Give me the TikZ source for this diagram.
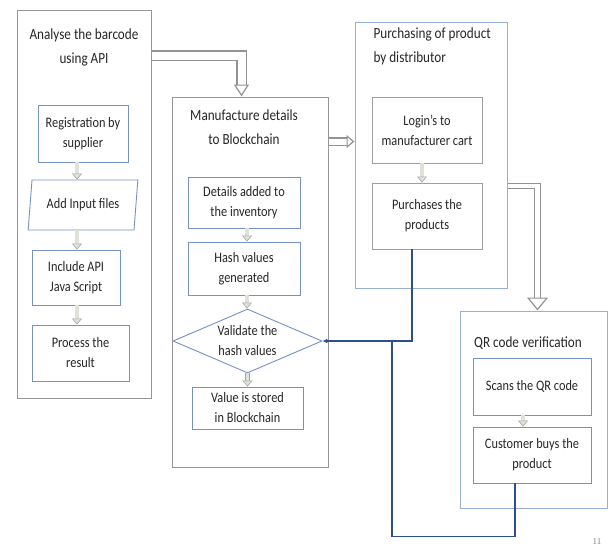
\documentclass[tikz,border=0pt]{standalone}
\usepackage{fontspec}
\setmainfont{Carlito}[FakeStretch=0.85]
\newfontfamily\pagefont{Liberation Serif}
\usepackage{tikz}
\usetikzlibrary{shapes.geometric,arrows.meta,positioning,calc,shadows}
\usepackage{xcolor}
\definecolor{framegray}{RGB}{150,150,150}
\definecolor{paleblue}{RGB}{150,176,212}
\definecolor{innerblue}{RGB}{118,146,194}
\definecolor{linkblue}{RGB}{45,80,140}
\definecolor{arrowfill}{RGB}{222,226,216}

\begin{document}
\begin{tikzpicture}[
  x=1pt, y=-1pt,
  outer/.style={draw=framegray, line width=1pt, drop shadow={shadow xshift=0.8pt, shadow yshift=-1pt, opacity=0.45, fill=gray}, fill=white},
  pale/.style={draw=paleblue, line width=1pt},
  box/.style={draw=innerblue, line width=0.9pt, align=center, inner sep=2pt, font=\fontsize{14.5}{20}\selectfont, text=black!85},
  gbox/.style={box, draw=gray!75},
  para/.style={box, trapezium, trapezium left angle=80, trapezium right angle=100, trapezium stretches=true},
  dec/.style={box, diamond, aspect=2.3, inner sep=0pt},
  ttl/.style={align=center, font=\fontsize{15.5}{24}\selectfont, text=black!85},
  flow/.style={draw=gray!70, line width=0.6pt, double=arrowfill, double distance=3.5pt, -{Triangle[length=6pt,width=10pt,fill=arrowfill]}},
  big/.style={draw=gray!85, line width=1.2pt, double=white, double distance=6pt, -{Triangle[open,length=12pt,width=15pt]}},
  link/.style={draw=linkblue, line width=1.4pt},
]
\useasboundingbox (0,0) rectangle (611,552);

% ─── Analyse the barcode (left column) ───
\node[outer, minimum width=134pt, minimum height=388pt] (analyse) at (84,204) {};
\node[ttl] (analyse-t) at (84,47) {Analyse the barcode\\using API};
\node[box, minimum width=90pt, minimum height=57pt] (reg) at (83,133.5) {Registration by\\supplier};
\node[para, minimum width=110pt, minimum height=50pt] (input) at (83,205) {Add Input files};
\node[box, minimum width=88pt, minimum height=55pt] (api) at (76,277.5) {Include API\\Java Script};
\node[box, minimum width=97pt, minimum height=56pt] (result) at (80.5,353) {Process the\\result};

% ─── Manufacture details to Blockchain (middle column) ───
\node[outer, minimum width=156pt, minimum height=370pt] (manuf) at (250,282) {};
\node[ttl] (manuf-t) at (244,127) {Manufacture details\\to Blockchain};
\node[box, minimum width=112pt, minimum height=51pt] (details) at (244,202.5) {Details added to\\the inventory};
\node[box, minimum width=112pt, minimum height=53pt] (hash) at (244,268.5) {Hash values\\generated};
\node[dec, minimum width=149pt, minimum height=64pt] (validate) at (247.5,341) {Validate the\\hash values};
\node[box, minimum width=111pt, minimum height=42pt] (stored) at (247.5,408) {Value is stored\\in Blockchain};

% ─── Purchasing of product by distributor ───
\node[pale, minimum width=152pt, minimum height=266pt] (purch) at (431,155) {};
\node[ttl, align=left, anchor=west] (purch-t) at (370,46.5) {Purchasing of product\\ by distributor};
\node[gbox, minimum width=110pt, minimum height=66pt] (login) at (427,130) {Login's to\\manufacturer cart};
\node[gbox, minimum width=110pt, minimum height=66pt] (buy) at (427,216) {Purchases the\\products};

% ─── QR code verification ───
\node[pale, minimum width=147pt, minimum height=197pt] (qr) at (533.5,409.5) {};
\node[ttl] (qr-t) at (528,343) {QR code verification};
\node[box, minimum width=118pt, minimum height=57pt] (scan) at (532,386.5) {Scans the QR code};
\node[box, minimum width=118pt, minimum height=56pt] (cust) at (532,455) {Customer buys the\\product};

\node[text=gray, font=\pagefont\fontsize{9}{10}\selectfont] (page) at (597,542) {11};

% ─── Small arrows inside the columns ───
\draw[flow] ([xshift=-6pt]reg.south) -- ([xshift=-6pt]reg.south |- input.north);
\draw[flow] ([xshift=-6pt]reg.south |- input.south) -- ([xshift=-6pt]reg.south |- api.north);
\draw[flow] ([xshift=-6pt]reg.south |- api.south) -- ([xshift=-6pt]reg.south |- result.north);
\draw[flow] ([xshift=3pt]details.south) -- ([xshift=3pt]details.south |- hash.north);
\draw[flow] ([xshift=3pt]hash.south) -- ([xshift=3pt]hash.south |- validate.north);
\draw[flow] (validate.south) -- (validate.south |- stored.north);
\draw[flow] ([xshift=-5pt]login.south) -- ([xshift=-5pt]login.south |- buy.north);
\draw[flow] ([xshift=-9pt]scan.south) -- ([xshift=-9pt]scan.south |- cust.north);

% ─── Hollow arrows between the columns ───
\coordinate (am) at ([yshift=-46pt]analyse.north east);
\coordinate (mp) at ([yshift=-45pt]manuf.north east);
\coordinate (pq) at ([yshift=-164.5pt]purch.north east);
\draw[big, double distance=8pt] (am) -| ([xshift=-8.5pt]manuf.north);
\draw[big, -{Triangle[open,length=8pt,width=13pt]}] (mp) -- (mp -| purch.west);
\draw[big, double distance=4.5pt, -{Triangle[open,length=13pt,width=21pt]}] (pq) -| ([xshift=4pt]qr.north);

% ─── Feedback lines to the validation step ───
\coordinate (join) at ([xshift=-35pt]buy.south |- validate.east);
\draw[link, -{Latex[length=5pt,width=5pt]}] ([xshift=-15pt]buy.south) |- (validate.east);
\draw[link] ([xshift=-17pt]cust.south) -- ++(0,53) -| (join);

\end{tikzpicture}
\end{document}
